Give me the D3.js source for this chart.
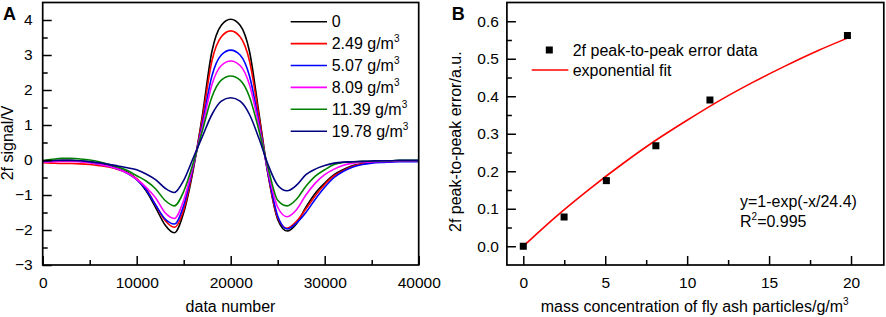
<!DOCTYPE html>
<html><head><meta charset="utf-8">
<script src="https://cdn.jsdelivr.net/npm/d3@7"></script>
<style>
html,body{margin:0;padding:0;background:#fff;}
svg text{font-family:"Liberation Sans",Arial,Helvetica,sans-serif;}
</style></head>
<body><svg id="c" width="886" height="317"></svg>
<script>
// ---------- Panel A data ----------
const dataNumber = d3.range(0, 40001, 1000);
const seriesLabels = ["0", "2.49", "5.07", "8.09", "11.39", "19.78"];
const seriesColors = ["#000000", "#ff0000", "#0000ff", "#ff00ff", "#008000", "#000080"];
const sig0 = [-0.03,-0.02,-0.01,-0.01,-0.03,-0.05,-0.1,-0.16,-0.24,-0.35,-0.55,-0.88,-1.35,-1.85,-2.08,-1.5,-0.3,1.3,3.1,3.85,4.02,3.85,3.1,1.35,-0.45,-1.7,-2.03,-1.82,-1.35,-0.95,-0.66,-0.42,-0.27,-0.16,-0.1,-0.06,-0.04,-0.03,-0.02,-0.02,-0.02];
const sig249 = [-0.08,-0.09,-0.1,-0.1,-0.11,-0.13,-0.16,-0.2,-0.27,-0.37,-0.53,-0.82,-1.28,-1.72,-1.92,-1.42,-0.25,1.2,2.83,3.52,3.69,3.52,2.83,1.25,-0.45,-1.65,-1.95,-1.75,-1.4,-1.02,-0.7,-0.45,-0.3,-0.18,-0.11,-0.07,-0.05,-0.04,-0.03,-0.03,-0.03];
const sig507 = [-0.03,-0.02,-0.02,-0.02,-0.04,-0.07,-0.12,-0.18,-0.26,-0.38,-0.56,-0.85,-1.28,-1.68,-1.83,-1.3,-0.2,1.05,2.4,3.0,3.14,3.0,2.4,1.08,-0.42,-1.6,-1.97,-1.8,-1.5,-1.12,-0.78,-0.5,-0.32,-0.2,-0.13,-0.09,-0.07,-0.06,-0.05,-0.05,-0.05];
const sig809 = [-0.06,-0.05,-0.04,-0.04,-0.05,-0.08,-0.12,-0.18,-0.26,-0.37,-0.55,-0.78,-1.08,-1.5,-1.67,-1.15,-0.15,0.95,2.15,2.7,2.83,2.7,2.15,0.98,-0.35,-1.35,-1.62,-1.42,-1.0,-0.66,-0.42,-0.26,-0.15,-0.09,-0.06,-0.05,-0.04,-0.04,-0.03,-0.03,-0.03];
const sig1139 = [-0.02,0.02,0.05,0.05,0.03,0.0,-0.05,-0.12,-0.2,-0.3,-0.45,-0.6,-0.82,-1.15,-1.31,-0.9,-0.1,0.85,1.8,2.28,2.4,2.28,1.8,0.85,-0.25,-1.15,-1.31,-1.12,-0.75,-0.46,-0.28,-0.13,-0.07,-0.05,-0.04,-0.03,-0.02,-0.02,-0.01,-0.01,-0.01];
const sig1978 = [-0.03,-0.02,-0.01,-0.01,-0.02,-0.05,-0.08,-0.12,-0.17,-0.22,-0.28,-0.4,-0.56,-0.8,-0.93,-0.58,0.05,0.68,1.3,1.68,1.78,1.68,1.3,0.62,-0.15,-0.72,-0.88,-0.72,-0.42,-0.26,-0.16,-0.09,-0.06,-0.05,-0.04,-0.03,-0.02,-0.02,-0.01,-0.01,-0.01];
const signals = [sig0, sig249, sig507, sig809, sig1139, sig1978];
const xTicksA = [0, 10000, 20000, 30000, 40000];
const yTicksA = [-3, -2, -1, 0, 1, 2, 3, 4];

// ---------- Panel B data ----------
const concentration = [0, 2.49, 5.07, 8.09, 11.39, 19.78];
const ppError = [0, 0.078, 0.175, 0.268, 0.39, 0.562];
const fitX = [0, 2, 4, 6, 8, 10, 12, 14, 16, 18, 19.78];
const fitY = [0, 0.079, 0.151, 0.218, 0.280, 0.336, 0.389, 0.437, 0.481, 0.522, 0.555];
const xTicksB = [0, 5, 10, 15, 20];
const yTicksB = [0, 0.1, 0.2, 0.3, 0.4, 0.5, 0.6];

const svg = d3.select("#c");
const FS = 16;     // titles / legends
const TFS = 15.5;  // tick labels

function frame(g, x0, y0, x1, y1) {
  g.append("rect").attr("x", x0).attr("y", y0).attr("width", x1 - x0).attr("height", y1 - y0)
    .attr("fill", "none").attr("stroke", "#000").attr("stroke-width", 1.7);
}
function styleAxis(sel) {
  sel.select(".domain").remove();
  sel.selectAll(".tick line").attr("stroke", "#000").attr("stroke-width", 1.5);
  sel.selectAll(".tick text").attr("fill", "#000").style("font-size", TFS + "px")
    .style("font-family", '"Liberation Sans",Arial,sans-serif');
}
function sup(textSel, main, s) {
  textSel.append("tspan").text(main);
  textSel.append("tspan").text(s).style("font-size", "10px").attr("dy", -7);
}

// ================= Panel A =================
const xA = d3.scaleLinear().domain([0, 40000]).range([42.7, 418.7]);
const yA = d3.scaleLinear().domain([-3, 4.5]).range([265, 2.5]);
const gA = svg.append("g");

const lineA = d3.line().curve(d3.curveMonotoneX);
signals.forEach((s, i) => {
  gA.append("path")
    .attr("d", lineA(s.map((v, j) => [xA(dataNumber[j]), yA(v)])))
    .attr("fill", "none").attr("stroke", seriesColors[i]).attr("stroke-width", 1.6);
});

gA.append("g").attr("transform", "translate(0,265)")
  .call(d3.axisBottom(xA).tickValues(xTicksA).tickFormat(d3.format("d")).tickSize(-9).tickPadding(12)).call(styleAxis);
gA.append("g").attr("transform", "translate(0,265)")
  .call(d3.axisBottom(xA).tickValues([5000, 15000, 25000, 35000]).tickFormat("").tickSize(-5)).call(styleAxis);
gA.append("g").attr("transform", "translate(42.7,0)")
  .call(d3.axisLeft(yA).tickValues(yTicksA).tickFormat(d3.format("d")).tickSize(-9).tickPadding(10)).call(styleAxis);
gA.append("g").attr("transform", "translate(42.7,0)")
  .call(d3.axisLeft(yA).tickValues([-2.5, -1.5, -0.5, 0.5, 1.5, 2.5, 3.5]).tickFormat("").tickSize(-5)).call(styleAxis);
frame(gA, xA(0), yA(4.5), xA(40000), yA(-3));

// legend A
seriesLabels.forEach((lab, i) => {
  const yy = 21.7 + i * 21.9;
  gA.append("line").attr("x1", 290.7).attr("x2", 327).attr("y1", yy).attr("y2", yy)
    .attr("stroke", seriesColors[i]).attr("stroke-width", 1.6);
  const t = gA.append("text").attr("x", 331.7).attr("y", yy + 5.5).style("font-size", FS + "px");
  if (i === 0) t.text(lab); else sup(t, lab + " g/m", "3");
});

gA.append("text").attr("x", 230.5).attr("y", 312).attr("text-anchor", "middle")
  .style("font-size", FS + "px").text("data number");
gA.append("text").attr("transform", "translate(12.5,143) rotate(-90)").attr("text-anchor", "middle")
  .style("font-size", FS + "px").text("2f signal/V");
gA.append("text").attr("x", 3).attr("y", 20).style("font-size", "18px").style("font-weight", "bold").text("A");

// ================= Panel B =================
const xB = d3.scaleLinear().domain([-1, 22]).range([506.9, 883.8]);
const yB = d3.scaleLinear().domain([-0.05, 0.65]).range([265, 2.5]);
const gB = svg.append("g");

gB.append("path")
  .attr("d", d3.line().curve(d3.curveMonotoneX)(fitX.map((v, j) => [xB(v), yB(fitY[j])])))
  .attr("fill", "none").attr("stroke", "#ff0000").attr("stroke-width", 1.6);

const sq = 7;
gB.selectAll("rect.pt").data(concentration).enter().append("rect").attr("class", "pt")
  .attr("x", (d) => xB(d) - sq / 2).attr("y", (d, i) => yB(ppError[i]) - sq / 2)
  .attr("width", sq).attr("height", sq).attr("fill", "#000");

gB.append("g").attr("transform", "translate(0,265)")
  .call(d3.axisBottom(xB).tickValues(xTicksB).tickFormat(d3.format("d")).tickSize(-9).tickPadding(12)).call(styleAxis);
gB.append("g").attr("transform", "translate(0,265)")
  .call(d3.axisBottom(xB).tickValues([2.5, 7.5, 12.5, 17.5]).tickFormat("").tickSize(-5)).call(styleAxis);
gB.append("g").attr("transform", "translate(506.9,0)")
  .call(d3.axisLeft(yB).tickValues(yTicksB).tickFormat(d3.format(".1f")).tickSize(-9).tickPadding(8)).call(styleAxis);
gB.append("g").attr("transform", "translate(506.9,0)")
  .call(d3.axisLeft(yB).tickValues([0.05, 0.15, 0.25, 0.35, 0.45, 0.55]).tickFormat("").tickSize(-5)).call(styleAxis);
frame(gB, xB(-1), yB(0.65), xB(22), yB(-0.05));

// legend B
gB.append("rect").attr("x", 549.3 - sq / 2).attr("y", 50 - sq / 2).attr("width", sq).attr("height", sq).attr("fill", "#000");
gB.append("text").attr("x", 572.7).attr("y", 55.5).style("font-size", FS + "px").text("2f peak-to-peak error data");
gB.append("line").attr("x1", 531.7).attr("x2", 568.3).attr("y1", 70).attr("y2", 70).attr("stroke", "#ff0000").attr("stroke-width", 1.6);
gB.append("text").attr("x", 572.7).attr("y", 75.5).style("font-size", FS + "px").text("exponential fit");

gB.append("text").attr("x", 740).attr("y", 207).style("font-size", FS + "px").text("y=1-exp(-x/24.4)");
const r2 = gB.append("text").attr("x", 740).attr("y", 227).style("font-size", FS + "px");
r2.append("tspan").text("R");
r2.append("tspan").text("2").style("font-size", "10px").attr("dy", -7);
r2.append("tspan").text("=0.995").attr("dy", 7);

const xt = gB.append("text").attr("x", 694.7).attr("y", 312).attr("text-anchor", "middle").style("font-size", FS + "px");
sup(xt, "mass concentration of fly ash particles/g/m", "3");
gB.append("text").attr("transform", "translate(461,141.7) rotate(-90)").attr("text-anchor", "middle")
  .style("font-size", FS + "px").text("2f peak-to-peak error/a.u.");
gB.append("text").attr("x", 451.7).attr("y", 19.5).style("font-size", "18px").style("font-weight", "bold").text("B");
</script></body></html>
